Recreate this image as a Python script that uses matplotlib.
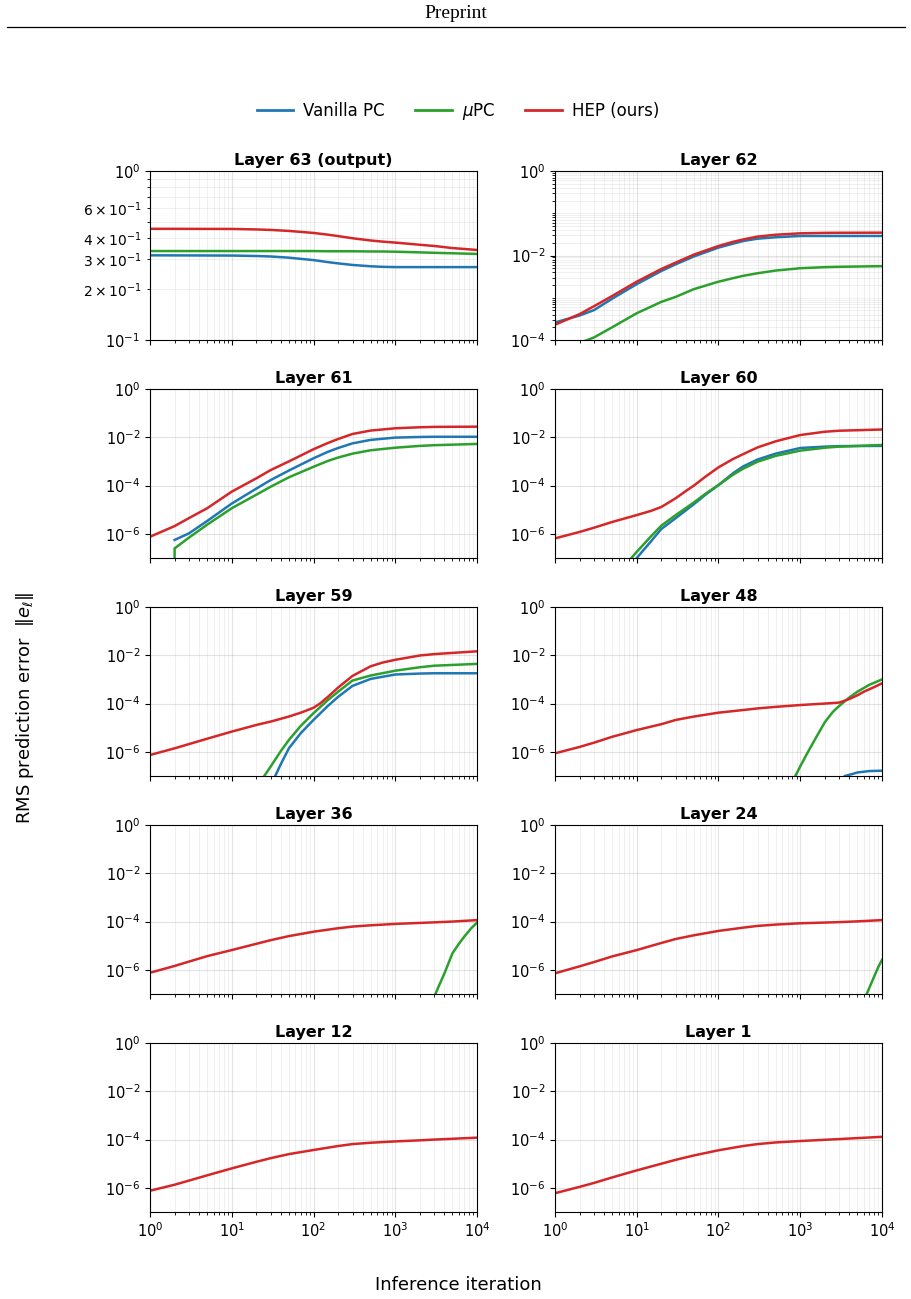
import numpy as np
import matplotlib
matplotlib.use("Agg")
import matplotlib.pyplot as plt
from matplotlib.lines import Line2D
from matplotlib.ticker import FixedLocator, LogLocator, NullLocator, NullFormatter

# Colores de las tres variantes
C_VAN = "tab:blue"
C_MU = "tab:green"
C_HEP = "tab:red"

# Datos (iteracion, error RMS)

# Layer 63 (output)
L63_X = [1, 10, 20, 30, 50, 100, 150, 200, 300, 500, 700, 1000, 2000, 3000, 5000, 10000]
L63_VAN = [0.317, 0.316, 0.314, 0.312, 0.307, 0.297, 0.289, 0.284, 0.278, 0.273, 0.271,
           0.270, 0.270, 0.270, 0.270, 0.270]
L63_MU = [0.336, 0.336, 0.336, 0.336, 0.336, 0.336, 0.335, 0.335, 0.335, 0.334, 0.334,
          0.333, 0.330, 0.328, 0.326, 0.323]
L63_HEP = [0.455, 0.454, 0.451, 0.448, 0.442, 0.430, 0.420, 0.412, 0.400, 0.388, 0.382,
           0.377, 0.366, 0.360, 0.350, 0.341]

# Layer 62
L62_X = [1, 2, 3, 5, 10, 20, 30, 50, 100, 150, 200, 300, 500, 1000, 2000, 3000, 10000]
L62_VAN = [2.6e-4, 3.8e-4, 5.1e-4, 9.5e-4, 2.1e-3, 4.3e-3, 6.2e-3, 9.5e-3, 0.0154, 0.019,
           0.022, 0.025, 0.027, 0.029, 0.029, 0.029, 0.029]
L62_HEP = [2.3e-4, 4.1e-4, 6.3e-4, 1.1e-3, 2.4e-3, 4.8e-3, 6.8e-3, 0.0105, 0.0168, 0.021,
           0.024, 0.028, 0.031, 0.0335, 0.0343, 0.0345, 0.0347]
L62_MU_X = [2, 3, 5, 10, 20, 30, 50, 100, 150, 200, 300, 500, 1000, 2000, 3000, 10000]
L62_MU = [8.5e-5, 1.15e-4, 2.0e-4, 4.3e-4, 8e-4, 1.05e-3, 1.6e-3, 2.4e-3, 2.9e-3, 3.3e-3,
          3.8e-3, 4.4e-3, 5.0e-3, 5.3e-3, 5.4e-3, 5.6e-3]

# Layer 61
L61_HEP_X = [1, 2, 3, 5, 10, 20, 30, 50, 100, 150, 200, 300, 500, 1000, 2000, 3000, 10000]
L61_HEP = [7.6e-7, 2.1e-6, 4.5e-6, 1.15e-5, 5.6e-5, 2.0e-4, 4.4e-4, 1.0e-3, 3.2e-3, 5.8e-3,
           8.5e-3, 0.0137, 0.019, 0.0236, 0.026, 0.027, 0.0275]
L61_VAN_X = [2, 3, 5, 10, 20, 30, 50, 100, 150, 200, 300, 500, 1000, 2000, 3000, 10000]
L61_VAN = [5.6e-7, 1.05e-6, 3.4e-6, 1.8e-5, 7.5e-5, 1.7e-4, 4.2e-4, 1.35e-3, 2.5e-3, 3.6e-3,
           5.6e-3, 7.8e-3, 9.7e-3, 0.0103, 0.0105, 0.0105]
L61_MU_X = [1, 2, 3, 5, 10, 20, 30, 50, 100, 150, 200, 300, 500, 1000, 2000, 3000, 10000]
L61_MU = [0.0, 2.5e-7, 7e-7, 2.4e-6, 1.15e-5, 4.2e-5, 9e-5, 2.2e-4, 6e-4, 1.05e-3, 1.45e-3,
          2.1e-3, 2.9e-3, 3.7e-3, 4.4e-3, 4.7e-3, 5.3e-3]

# Layer 60
L60_HEP_X = [1, 2, 3, 5, 10, 15, 20, 30, 40, 50, 70, 100, 150, 200, 300, 500, 1000, 2000,
             3000, 10000]
L60_HEP = [6.5e-7, 1.2e-6, 1.8e-6, 3.1e-6, 6e-6, 9e-6, 1.3e-5, 3e-5, 6e-5, 1.0e-4, 2.4e-4,
           5.7e-4, 1.25e-3, 2.0e-3, 3.8e-3, 6.8e-3, 0.0124, 0.017, 0.0187, 0.021]
L60_VAN_X = [9, 10, 15, 20, 30, 50, 70, 100, 150, 200, 300, 500, 1000, 2000, 3000, 10000]
L60_VAN = [6.4e-8, 1.0e-7, 5e-7, 1.6e-6, 4.5e-6, 1.7e-5, 4.3e-5, 1.05e-4, 3.2e-4, 6.2e-4,
           1.2e-3, 2.1e-3, 3.6e-3, 4.1e-3, 4.3e-3, 4.4e-3]
L60_MU_X = [8, 10, 15, 20, 30, 50, 70, 100, 150, 200, 300, 500, 1000, 2000, 3000, 10000]
L60_MU = [7.5e-8, 1.8e-7, 8e-7, 2.2e-6, 6e-6, 2e-5, 4.7e-5, 1.05e-4, 2.8e-4, 5e-4, 9.7e-4,
          1.7e-3, 2.8e-3, 3.7e-3, 4.1e-3, 4.8e-3]

# Layer 59
L59_HEP_X = [1, 2, 3, 5, 10, 20, 30, 50, 70, 100, 120, 150, 200, 300, 500, 700, 1000, 2000,
             3000, 10000]
L59_HEP = [7.4e-7, 1.4e-6, 2.1e-6, 3.5e-6, 6.9e-6, 1.3e-5, 1.8e-5, 2.9e-5, 4.2e-5, 6.7e-5,
           1.0e-4, 1.9e-4, 4.6e-4, 1.4e-3, 3.5e-3, 5e-3, 6.5e-3, 9.8e-3, 0.0112, 0.0146]
L59_MU_X = [20, 25, 30, 40, 50, 70, 100, 150, 200, 300, 500, 1000, 2000, 3000, 10000]
L59_MU = [3.3e-8, 1e-7, 2.5e-7, 1.1e-6, 3.1e-6, 1.2e-5, 4e-5, 1.4e-4, 3.1e-4, 9e-4, 1.45e-3,
          2.3e-3, 3.2e-3, 3.7e-3, 4.4e-3]
L59_VAN_X = [30, 34, 40, 50, 70, 100, 150, 200, 300, 500, 1000, 2000, 3000, 10000]
L59_VAN = [4.2e-8, 1e-7, 3.2e-7, 1.4e-6, 6e-6, 2.1e-5, 8e-5, 1.9e-4, 5.4e-4, 1.05e-3, 1.6e-3,
           1.75e-3, 1.8e-3, 1.8e-3]

# Layer 48
L48_HEP_X = [1, 2, 3, 5, 10, 20, 30, 50, 100, 200, 300, 500, 1000, 2000, 3000, 4000, 5000,
             6000, 8000, 10000]
L48_HEP = [8.7e-7, 1.6e-6, 2.4e-6, 4.2e-6, 8e-6, 1.4e-5, 2.1e-5, 2.9e-5, 4.2e-5, 5.4e-5,
           6.3e-5, 7.3e-5, 8.7e-5, 1.0e-4, 1.1e-4, 1.55e-4, 2.2e-4, 3.1e-4, 4.8e-4, 6.9e-4]
L48_MU_X = [800, 1000, 1200, 1500, 2000, 2500, 3000, 4000, 5000, 7000, 10000]
L48_MU = [5.7e-8, 2.5e-7, 8e-7, 3.1e-6, 1.7e-5, 4.5e-5, 8e-5, 1.8e-4, 3.1e-4, 6e-4, 1e-3]
L48_VAN_X = [3000, 3500, 4300, 5000, 7000, 10000]
L48_VAN = [5e-8, 1e-7, 1.2e-7, 1.4e-7, 1.6e-7, 1.66e-7]

# Layer 36
L36_HEP_X = [1, 2, 3, 5, 10, 20, 30, 50, 100, 200, 300, 500, 1000, 2000, 3000, 5000, 10000]
L36_HEP = [7.6e-7, 1.45e-6, 2.2e-6, 3.7e-6, 6.6e-6, 1.2e-5, 1.7e-5, 2.5e-5, 3.8e-5, 5.3e-5,
           6.2e-5, 7.0e-5, 8e-5, 8.8e-5, 9.3e-5, 1.0e-4, 1.15e-4]
L36_MU_X = [2500, 3000, 3500, 4000, 5000, 6000, 7000, 8500, 10000]
L36_MU = [1.8e-8, 7.7e-8, 2.6e-7, 7.2e-7, 4.8e-6, 1.2e-5, 2.4e-5, 5.3e-5, 9e-5]

# Layer 24
L24_HEP_X = [1, 2, 3, 5, 10, 20, 30, 50, 100, 200, 300, 500, 1000, 2000, 3000, 5000, 10000]
L24_HEP = [7.2e-7, 1.4e-6, 2.1e-6, 3.6e-6, 6.6e-6, 1.3e-5, 1.9e-5, 2.7e-5, 4.1e-5, 5.6e-5,
           6.6e-5, 7.5e-5, 8.5e-5, 9.1e-5, 9.5e-5, 1.02e-4, 1.15e-4]
L24_MU_X = [6000, 6500, 7000, 8000, 9000, 10000]
L24_MU = [6e-8, 1e-7, 1.8e-7, 5.2e-7, 1.3e-6, 2.6e-6]

# Layer 12
L12_HEP_X = [1, 2, 3, 5, 10, 20, 30, 50, 100, 200, 300, 500, 1000, 2000, 3000, 5000, 10000]
L12_HEP = [7.6e-7, 1.35e-6, 2.0e-6, 3.3e-6, 6.4e-6, 1.2e-5, 1.7e-5, 2.5e-5, 3.7e-5, 5.4e-5,
           6.5e-5, 7.4e-5, 8.4e-5, 9.3e-5, 1e-4, 1.08e-4, 1.2e-4]

# Layer 1
L1_HEP_X = [1, 2, 3, 5, 10, 20, 30, 50, 100, 200, 300, 500, 1000, 2000, 3000, 5000, 10000]
L1_HEP = [6e-7, 1.1e-6, 1.6e-6, 2.7e-6, 5.3e-6, 1.0e-5, 1.45e-5, 2.2e-5, 3.6e-5, 5.4e-5,
          6.5e-5, 7.6e-5, 8.7e-5, 9.8e-5, 1.05e-4, 1.15e-4, 1.3e-4]

TITLES = ["Layer 63 (output)", "Layer 62", "Layer 61", "Layer 60", "Layer 59",
          "Layer 48", "Layer 36", "Layer 24", "Layer 12", "Layer 1"]

# series por panel: (x, y, color)
PANELS = [
    [(L63_X, L63_VAN, C_VAN), (L63_X, L63_MU, C_MU), (L63_X, L63_HEP, C_HEP)],
    [(L62_X, L62_VAN, C_VAN), (L62_MU_X, L62_MU, C_MU), (L62_X, L62_HEP, C_HEP)],
    [(L61_VAN_X, L61_VAN, C_VAN), (L61_MU_X, L61_MU, C_MU), (L61_HEP_X, L61_HEP, C_HEP)],
    [(L60_VAN_X, L60_VAN, C_VAN), (L60_MU_X, L60_MU, C_MU), (L60_HEP_X, L60_HEP, C_HEP)],
    [(L59_VAN_X, L59_VAN, C_VAN), (L59_MU_X, L59_MU, C_MU), (L59_HEP_X, L59_HEP, C_HEP)],
    [(L48_VAN_X, L48_VAN, C_VAN), (L48_MU_X, L48_MU, C_MU), (L48_HEP_X, L48_HEP, C_HEP)],
    [(L36_MU_X, L36_MU, C_MU), (L36_HEP_X, L36_HEP, C_HEP)],
    [(L24_MU_X, L24_MU, C_MU), (L24_HEP_X, L24_HEP, C_HEP)],
    [(L12_HEP_X, L12_HEP, C_HEP)],
    [(L1_HEP_X, L1_HEP, C_HEP)],
]

YLIMS = [(0.1, 1), (1e-4, 1)] + [(1e-7, 1)] * 8

fig, axes = plt.subplots(5, 2, figsize=(9.12, 12.99), dpi=100, sharex=True)
plt.subplots_adjust(left=150/912, right=882/912, top=1-171/1299, bottom=1-1212/1299,
                    wspace=78/327, hspace=49/169)

for i, ax in enumerate(axes.flat):
    for xs, ys, c in PANELS[i]:
        ax.plot(xs, ys, color=c, lw=1.8)
    ax.set_xscale("log")
    ax.set_yscale("log")
    ax.set_xlim(1, 1e4)
    ax.set_ylim(*YLIMS[i])
    if i == 1:
        ax.yaxis.set_major_locator(FixedLocator([1e-4, 1e-2, 1e0]))
        ax.yaxis.set_minor_locator(LogLocator(base=10, subs=np.arange(1, 10), numticks=20))
        ax.yaxis.set_minor_formatter(NullFormatter())
    elif i > 1:
        ax.yaxis.set_major_locator(FixedLocator([1e-6, 1e-4, 1e-2, 1e0]))
        ax.yaxis.set_minor_locator(NullLocator())
    ax.set_title(TITLES[i], fontsize=11.5, fontweight="bold", pad=4)
    ax.grid(True, which="major", color="gray", alpha=0.22, lw=0.8)
    ax.grid(True, which="minor", color="gray", alpha=0.14, lw=0.6)
    ax.tick_params(labelsize=10.5)

# Leyenda arriba
handles = [Line2D([], [], color=C_VAN, lw=2),
           Line2D([], [], color=C_MU, lw=2),
           Line2D([], [], color=C_HEP, lw=2)]
fig.legend(handles, ["Vanilla PC", r"$\mu$PC", "HEP (ours)"], loc="center",
           bbox_to_anchor=(458/912, 1-111/1299), ncol=3, frameon=False,
           fontsize=12, handlelength=2.2, handletextpad=0.6, columnspacing=1.8)

fig.text(458/912, 1-1285/1299, "Inference iteration", ha="center", va="center", fontsize=13)
fig.text(25/912, 1-708/1299, r"RMS prediction error  $\|e_\ell\|$", ha="center",
         va="center", rotation=90, fontsize=13)

# Encabezado de la pagina
fig.text(456/912, 1-14/1299, "Preprint", ha="center", va="center",
         family="Liberation Serif", fontsize=14)
fig.add_artist(Line2D([7/912, 905/912], [1-27/1299, 1-27/1299], color="black", lw=0.9))

fig.savefig("out.png", dpi=100)
